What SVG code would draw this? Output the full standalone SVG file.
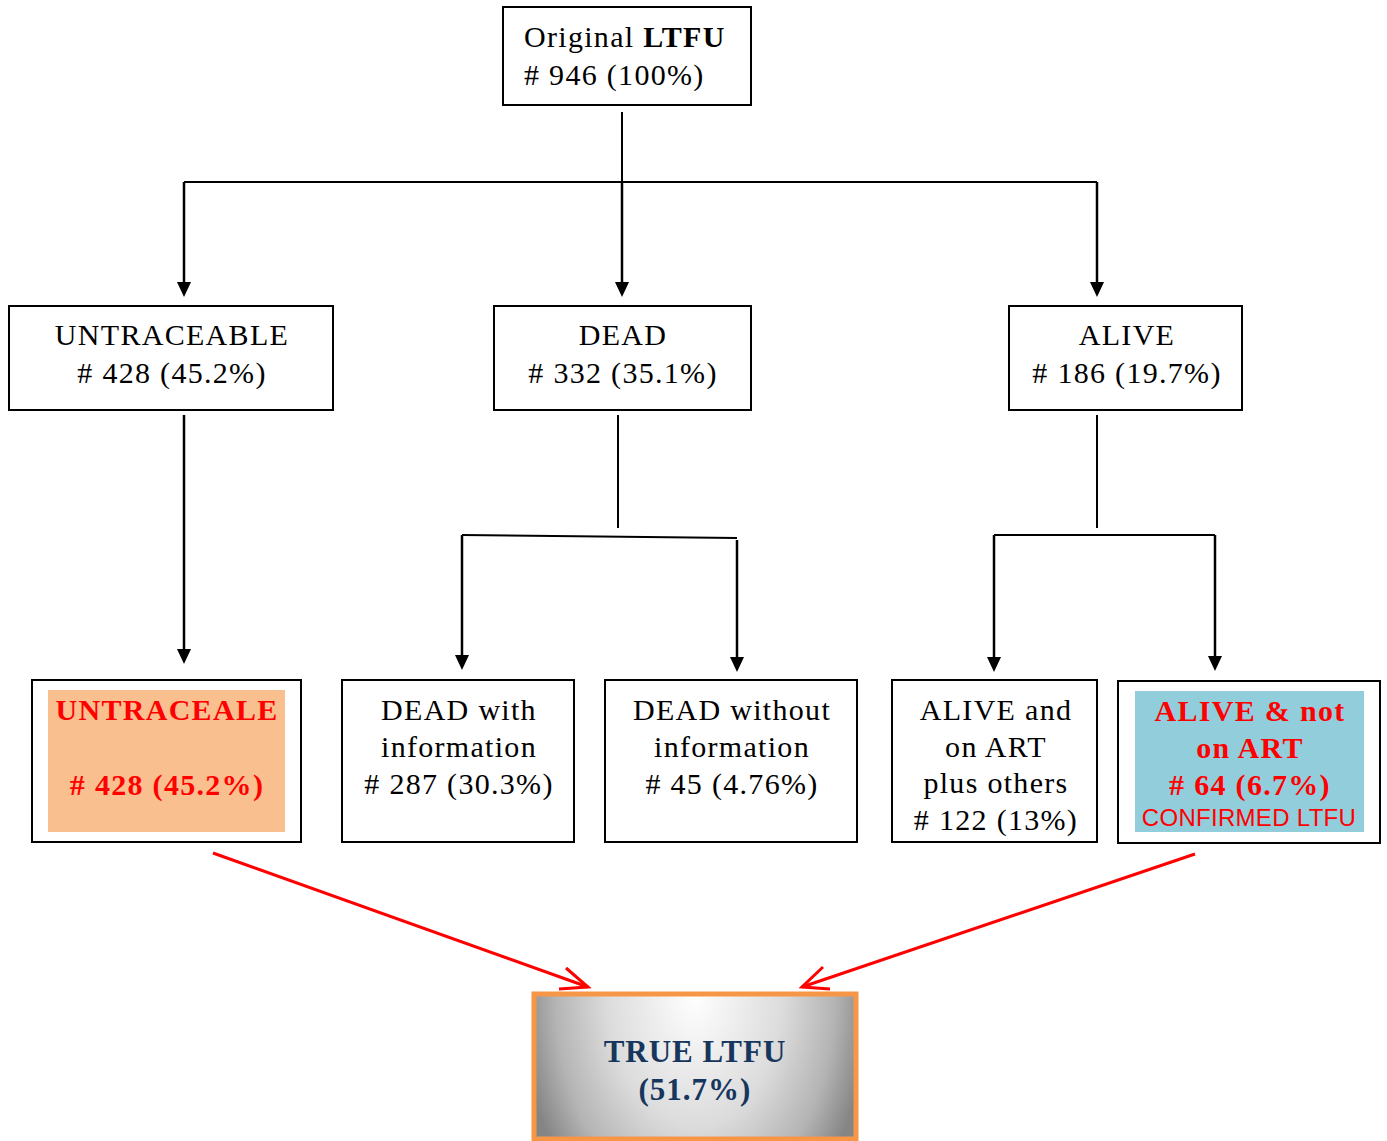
<svg xmlns="http://www.w3.org/2000/svg" width="1387" height="1141" viewBox="0 0 1387 1141">
<style>
.box{fill:#fff;stroke:#000;stroke-width:2}
.t{font-family:"Liberation Serif","Times New Roman",serif;font-size:30px;letter-spacing:1.3px;fill:#000;text-anchor:middle}
.r{fill:#ff0000;font-weight:bold}
.c{stroke:#000;stroke-width:2;fill:none}
.a{stroke:#000;stroke-width:2.5;fill:none}
.red{stroke:#ff0000;stroke-width:3;fill:none}
</style>
<defs>
<radialGradient id="gg" gradientUnits="userSpaceOnUse" cx="695" cy="994" r="175" gradientTransform="translate(695 994) scale(1 1.5) translate(-695 -994)">
<stop offset="0" stop-color="#ffffff"/>
<stop offset="0.5" stop-color="#dcdcdc"/>
<stop offset="0.8" stop-color="#b4b4b4"/>
<stop offset="1" stop-color="#858585"/>
</radialGradient>
</defs>
<g id="connectors">
<line class="c" x1="622" y1="112" x2="622" y2="182"/>
<polyline class="c" points="184,182 1097,182"/>
<line class="a" x1="184" y1="182" x2="184" y2="283"/>
<path d="M177,282 L191,282 L184,297 Z"/>
<line class="a" x1="622" y1="182" x2="622" y2="283"/>
<path d="M615,282 L629,282 L622,297 Z"/>
<line class="a" x1="1097" y1="182" x2="1097" y2="283"/>
<path d="M1090,282 L1104,282 L1097,297 Z"/>
<line class="a" x1="184" y1="415" x2="184" y2="650"/>
<path d="M177,649 L191,649 L184,664 Z"/>
<line class="c" x1="618" y1="415" x2="618" y2="528"/>
<line class="c" x1="462" y1="535" x2="737" y2="538"/>
<line class="a" x1="462" y1="535" x2="462" y2="656"/>
<path d="M455,655 L469,655 L462,670 Z"/>
<line class="a" x1="737" y1="540" x2="737" y2="658"/>
<path d="M730,657 L744,657 L737,672 Z"/>
<line class="c" x1="1097" y1="415" x2="1097" y2="528"/>
<line class="c" x1="994" y1="535" x2="1215" y2="535"/>
<line class="a" x1="994" y1="535" x2="994" y2="658"/>
<path d="M987,657 L1001,657 L994,672 Z"/>
<line class="a" x1="1215" y1="535" x2="1215" y2="657"/>
<path d="M1208,656 L1222,656 L1215,671 Z"/>
<line class="red" x1="213" y1="853" x2="588" y2="987"/>
<polyline class="red" points="566,968 588,987 559,989"/>
<line class="red" x1="1195" y1="854" x2="802" y2="987"/>
<polyline class="red" points="823,967 802,987 830,989"/>
</g>
<g id="n-original">
<rect class="box" x="503" y="7" width="248" height="98"/>
<text class="t" x="524" y="47" text-anchor="start" style="text-anchor:start">Original <tspan font-weight="bold">LTFU</tspan></text>
<text class="t" x="524" y="85" style="text-anchor:start"># 946 (100%)</text>
</g>
<g id="n-untraceable">
<rect class="box" x="9" y="306" width="324" height="104"/>
<text class="t" x="172" y="345">UNTRACEABLE</text>
<text class="t" x="172" y="383"># 428 (45.2%)</text>
</g>
<g id="n-dead">
<rect class="box" x="494" y="306" width="257" height="104"/>
<text class="t" x="623" y="345">DEAD</text>
<text class="t" x="623" y="383"># 332 (35.1%)</text>
</g>
<g id="n-alive">
<rect class="box" x="1009" y="306" width="233" height="104"/>
<text class="t" x="1127" y="345">ALIVE</text>
<text class="t" x="1127" y="383"># 186 (19.7%)</text>
</g>
<g id="n-untraceale">
<rect class="box" x="32" y="680" width="269" height="162"/>
<rect x="48" y="690" width="237" height="142" fill="#F9BF8F"/>
<text class="t r" x="167" y="720">UNTRACEALE</text>
<text class="t r" x="167" y="795"># 428 (45.2%)</text>
</g>
<g id="n-dead-info">
<rect class="box" x="342" y="680" width="232" height="162"/>
<text class="t" x="459" y="720">DEAD with</text>
<text class="t" x="459" y="757">information</text>
<text class="t" x="459" y="794"># 287 (30.3%)</text>
</g>
<g id="n-dead-noinfo">
<rect class="box" x="605" y="680" width="252" height="162"/>
<text class="t" x="732" y="720">DEAD without</text>
<text class="t" x="732" y="757">information</text>
<text class="t" x="732" y="794"># 45 (4.76%)</text>
</g>
<g id="n-alive-art">
<rect class="box" x="892" y="680" width="205" height="162"/>
<text class="t" x="996" y="720">ALIVE and</text>
<text class="t" x="996" y="757">on ART</text>
<text class="t" x="996" y="793">plus others</text>
<text class="t" x="996" y="830"># 122 (13%)</text>
</g>
<g id="n-alive-noart">
<rect class="box" x="1118" y="681" width="262" height="162"/>
<rect x="1135" y="691" width="229" height="141" fill="#92CDDC"/>
<text class="t r" x="1250" y="721">ALIVE &amp; not</text>
<text class="t r" x="1250" y="758">on ART</text>
<text class="t r" x="1250" y="795"># 64 (6.7%)</text>
<text class="t" x="1249" y="826" style="fill:#ff0000;font-size:24px;letter-spacing:0.3px;font-family:'Liberation Sans',Arial,sans-serif">CONFIRMED LTFU</text>
</g>
<g id="n-true">
<rect x="534" y="994" width="322" height="145" fill="url(#gg)" stroke="#F79646" stroke-width="5"/>
<text class="t" x="695" y="1062" style="fill:#17365D;font-weight:bold;font-size:31px;letter-spacing:1px">TRUE LTFU</text>
<text class="t" x="695" y="1100" style="fill:#17365D;font-weight:bold;font-size:31px;letter-spacing:1px">(51.7%)</text>
</g>
</svg>
